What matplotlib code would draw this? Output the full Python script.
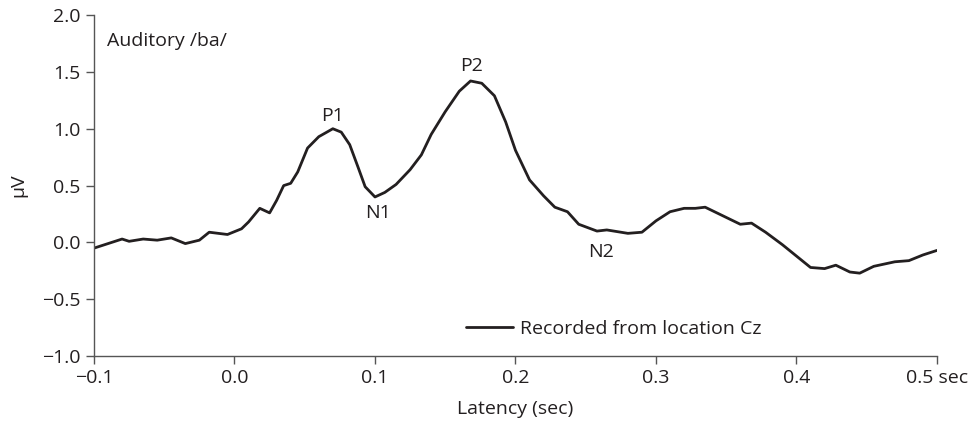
import matplotlib
matplotlib.use("Agg")
import matplotlib.pyplot as plt

plt.rcParams['font.family'] = ['Open Sans', 'DejaVu Sans']

latency = [-0.1, -0.08, -0.075, -0.065, -0.055, -0.045, -0.035, -0.025, -0.018, -0.005,
           0.005, 0.01, 0.018, 0.025, 0.03, 0.035, 0.04, 0.045, 0.052, 0.06,
           0.07, 0.076, 0.082, 0.088, 0.093, 0.1, 0.107, 0.115, 0.125, 0.133,
           0.14, 0.15, 0.16, 0.168, 0.176, 0.185, 0.193, 0.2, 0.21, 0.22,
           0.228, 0.237, 0.245, 0.258, 0.265, 0.28, 0.29, 0.3, 0.31, 0.32,
           0.328, 0.335, 0.345, 0.36, 0.368, 0.378, 0.39, 0.4, 0.41, 0.42,
           0.428, 0.438, 0.445, 0.455, 0.47, 0.48, 0.49, 0.5]
amplitude = [-0.05, 0.03, 0.01, 0.03, 0.02, 0.04, -0.01, 0.02, 0.09, 0.07,
             0.12, 0.18, 0.30, 0.26, 0.37, 0.50, 0.52, 0.62, 0.83, 0.93,
             1.00, 0.97, 0.86, 0.66, 0.49, 0.40, 0.44, 0.51, 0.64, 0.77,
             0.95, 1.15, 1.33, 1.42, 1.40, 1.29, 1.06, 0.81, 0.55, 0.41,
             0.31, 0.27, 0.16, 0.10, 0.11, 0.08, 0.09, 0.19, 0.27, 0.30,
             0.30, 0.31, 0.25, 0.16, 0.17, 0.09, -0.02, -0.12, -0.22, -0.23,
             -0.20, -0.26, -0.27, -0.21, -0.17, -0.16, -0.11, -0.07]

x_ticks = [-0.1, 0.0, 0.1, 0.2, 0.3, 0.4, 0.5]
x_ticklabels = ['\u22120.1', '0.0', '0.1', '0.2', '0.3', '0.4', '0.5 sec']
y_ticks = [-1.0, -0.5, 0.0, 0.5, 1.0, 1.5, 2.0]
y_ticklabels = ['\u22121.0', '\u22120.5', '0.0', '0.5', '1.0', '1.5', '2.0']

peak_labels = ['P1', 'N1', 'P2', 'N2']
peak_x = [0.07, 0.102, 0.169, 0.261]
peak_y = [1.11, 0.255, 1.55, -0.08]

FS = 14
TXT = '#231f20'

fig = plt.figure(figsize=(9.74, 4.23), dpi=100)
ax = fig.add_axes([0.0965, 0.158, 0.8655, 0.8065])

ax.plot(latency, amplitude, color=TXT, lw=2.0, solid_joinstyle='round',
        solid_capstyle='round', label='Recorded from location Cz')

ax.set_xlim(-0.1, 0.5)
ax.set_ylim(-1.0, 2.0)
ax.set_xticks(x_ticks)
ax.set_xticklabels(x_ticklabels)
ax.set_yticks(y_ticks)
ax.set_yticklabels(y_ticklabels)

for s in ['top', 'right']:
    ax.spines[s].set_visible(False)
for s in ['left', 'bottom']:
    ax.spines[s].set_color('#555555')
    ax.spines[s].set_linewidth(1.0)
ax.tick_params(axis='both', direction='out', length=6, width=1.0, color='#555555',
               labelsize=FS, labelcolor=TXT, pad=3.5)

ax.set_xlabel('Latency (sec)', fontsize=FS, color=TXT, labelpad=9)
ax.set_ylabel('\u03bcV', fontsize=FS, color=TXT, labelpad=11)

ax.text(-0.091, 1.77, 'Auditory /ba/', fontsize=FS, color=TXT, va='center', ha='left')
for lab, px, py in zip(peak_labels, peak_x, peak_y):
    ax.text(px, py, lab, fontsize=FS, color=TXT, ha='center', va='center')

leg = ax.legend(loc='lower left', bbox_to_anchor=(0.432, 0.03), frameon=False,
                fontsize=FS, handlelength=2.4, handletextpad=0.4, borderaxespad=0)
for t in leg.get_texts():
    t.set_color(TXT)

fig.savefig('out.png', dpi=100)
